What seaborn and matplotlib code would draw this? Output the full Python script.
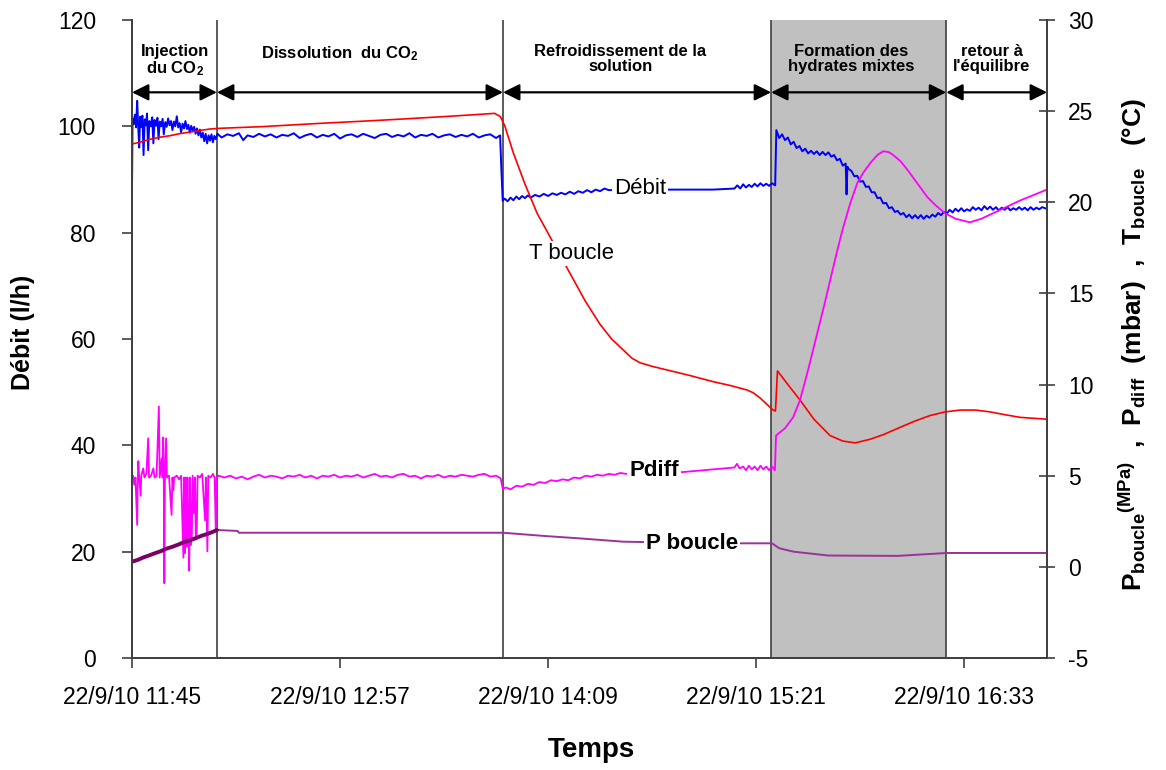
import matplotlib
matplotlib.use("Agg")
import pandas as pd
import matplotlib.pyplot as plt
import seaborn as sns

# temps en minutes depuis 22/9/10 11:45
tick_minutes = [0, 72, 144, 216, 288]
tick_labels = ['22/9/10 11:45', '22/9/10 12:57', '22/9/10 14:09',
               '22/9/10 15:21', '22/9/10 16:33']
x_max = 316.7

phase_edges = [0, 29.4, 128.4, 221.2, 281.8, 316.7]
phase_names = ['Injection\ndu CO$_2$', 'Dissolution  du CO$_2$',
               'Refroidissement de la\nsolution', 'Formation des\nhydrates mixtes',
               "retour à\nl'équilibre"]
phase_label_x = [14.9, 72.0, 169.0, 249.0, 297.5]

# Débit (l/h), axe gauche
debit_pts = [
    (0.0, 88.0), (0.2, 101.5), (0.6, 100.4), (1.0, 102.2), (1.4, 99.8), (1.8, 104.8),
    (2.1, 100.6), (2.5, 96.0), (2.8, 101.8), (3.2, 99.9), (3.6, 102.0), (4.0, 94.6),
    (4.4, 101.3), (4.8, 100.2), (5.2, 102.4), (5.6, 95.5), (6.0, 101.0), (6.5, 100.0),
    (7.0, 101.7), (7.4, 96.8), (7.8, 101.2), (8.3, 100.1), (8.8, 101.6), (9.2, 97.6),
    (9.6, 100.9), (10.1, 100.0), (10.6, 101.4), (11.0, 98.5), (11.5, 100.8), (12.0, 99.9),
    (12.5, 101.5), (13.0, 100.2), (13.5, 101.0), (14.0, 99.3), (14.5, 100.9), (15.0, 100.0),
    (15.5, 101.9), (16.0, 99.8), (16.5, 100.6), (17.0, 98.9), (17.5, 100.5), (18.0, 99.6),
    (18.5, 101.0), (19.0, 99.5), (19.5, 100.3), (20.0, 98.8), (20.5, 100.1), (21.0, 99.2),
    (21.5, 99.9), (22.0, 98.6), (22.5, 99.6), (23.0, 98.3), (23.5, 99.4), (24.0, 97.9),
    (24.5, 98.8), (25.0, 97.2), (25.5, 98.6), (26.0, 96.8), (26.5, 98.3), (27.0, 97.3),
    (27.5, 98.5), (28.0, 97.0), (28.5, 98.2), (29.0, 97.6),
    (29.6, 98.6), (31, 97.9), (33, 98.5), (35, 98.2), (37, 98.7), (38.5, 97.4), (40, 98.3),
    (42, 98.0), (44, 98.6), (46, 98.1), (48, 98.5), (50, 97.9), (52, 98.4), (54, 98.2),
    (56, 98.7), (58, 97.8), (60, 98.3), (62, 98.6), (64, 97.9), (66, 98.4), (68, 98.1),
    (70, 98.6), (72, 97.7), (74, 98.3), (76, 98.5), (78, 98.0), (80, 98.6), (82, 98.2),
    (84, 97.8), (86, 98.4), (88, 98.6), (90, 98.0), (92, 98.4), (94, 98.1), (96, 98.7),
    (98, 97.9), (100, 98.4), (102, 98.2), (104, 98.6), (106, 97.9), (108, 98.3), (110, 98.5),
    (112, 98.0), (114, 98.4), (116, 98.1), (118, 98.6), (120, 97.9), (122, 98.3), (124, 98.5),
    (126, 97.8), (127.4, 98.3), (127.8, 92.4), (128.3, 86.0),
    (129.0, 86.4), (130.0, 85.9), (131.0, 86.6), (132.0, 86.1), (133.0, 86.8), (134.0, 86.3),
    (135.0, 86.9), (136.0, 86.5), (137.0, 87.0), (138.0, 86.6), (139.5, 87.1), (141.0, 86.8),
    (142.5, 87.3), (144.0, 86.9), (145.5, 87.4), (147.0, 87.1), (148.5, 87.5), (150.0, 87.2),
    (151.5, 87.7), (153.0, 87.3), (154.5, 87.8), (156.0, 87.5), (157.5, 88.0), (159.0, 87.6),
    (160.5, 88.1), (162.0, 87.8), (163.5, 88.3), (165.0, 88.0), (187.0, 88.1), (201.0, 88.1),
    (208.5, 88.3), (209.5, 88.9), (210.5, 88.3), (211.5, 89.1), (212.5, 88.5), (213.5, 89.0),
    (214.5, 88.6), (215.5, 89.2), (216.5, 88.7), (217.5, 89.3), (218.5, 88.8), (219.5, 89.2),
    (220.5, 88.8), (221.5, 89.3), (222.6, 88.9), (223.0, 99.3),
    (224, 97.8), (225, 98.5), (226, 97.4), (227, 97.9), (228, 96.6), (229, 97.1), (230, 95.9),
    (231, 96.3), (232, 95.3), (233, 95.8), (234, 94.9), (235, 95.4), (236, 94.8), (237, 95.3),
    (238, 94.6), (239, 95.2), (240, 94.6), (241, 95.1), (242, 94.3), (243, 94.6), (244, 93.6),
    (245, 93.9), (246, 92.6), (247, 93.0), (247.3, 87.2), (247.6, 92.4), (248, 92.0),
    (249, 91.6), (250, 90.6), (251, 90.7), (252, 89.6), (253, 89.7), (254, 88.6), (255, 88.7),
    (256, 87.6), (257, 87.6), (258, 86.5), (259, 86.6), (260, 85.5), (261, 85.6), (262, 84.6),
    (263, 84.8), (264, 83.9), (265, 84.1), (266, 83.4), (267, 83.7), (268, 82.9), (269, 83.4),
    (270, 82.7), (271, 83.3), (272, 82.7), (273, 83.3), (274, 82.6), (275, 83.2), (276, 82.8),
    (277, 83.4), (278, 83.0), (279, 83.7), (280, 83.3), (281, 83.9), (282, 83.6),
    (283, 84.3), (284, 83.8), (285, 84.5), (286, 84.0), (287, 84.6), (288, 84.0), (289, 84.4),
    (290, 84.1), (291, 84.8), (292, 84.3), (293, 84.7), (294, 84.2), (295, 85.0), (296, 84.4),
    (297, 84.9), (298, 84.3), (299, 84.8), (300, 84.2), (301, 84.7), (302, 84.3), (303, 84.8),
    (304, 84.2), (305, 84.6), (306, 84.3), (307, 84.8), (308, 84.3), (309, 84.7), (310, 84.2),
    (311, 84.8), (312, 84.3), (313, 84.7), (314, 84.4), (315, 84.8), (316.5, 84.5),
]

# T boucle (°C), axe droit
t_boucle_pts = [
    (0, 23.2), (3, 23.3), (6, 23.45), (10, 23.58), (13, 23.65), (17, 23.78), (20, 23.85),
    (24, 23.95), (27, 24.02), (30.5, 24.06), (45, 24.15), (65, 24.33), (80, 24.45),
    (95, 24.58), (111, 24.73), (120, 24.82), (125.5, 24.88), (127.5, 24.7), (129, 24.2),
    (132, 22.7), (136, 21.0), (140.2, 19.4), (144.7, 18.1), (150.9, 16.3), (156.8, 14.6),
    (162, 13.3), (166, 12.5), (170, 11.9), (173, 11.45), (175.8, 11.2), (180, 11.0),
    (185.2, 10.8), (193, 10.5), (201.1, 10.16), (207, 9.95), (212.9, 9.7), (215, 9.55),
    (217.4, 9.26), (219.5, 8.95), (221.9, 8.6), (222.7, 8.55), (223.4, 10.75), (227, 10.0),
    (231.2, 9.15), (236, 8.1), (241.6, 7.2), (246, 6.9), (250.3, 6.8), (255.5, 7.0),
    (260, 7.25), (265.8, 7.65), (271, 8.0), (276.2, 8.3), (281.4, 8.5), (286.6, 8.6),
    (292, 8.6), (297, 8.5), (302, 8.35), (307.4, 8.2), (312, 8.15), (316.7, 8.1),
]

# Pdiff (mbar), axe droit
pdiff_pts = [
    (0.0, 4.7), (0.4, 5.0), (0.8, 4.5), (1.2, 4.9), (1.8, 2.3), (2.0, 4.8), (2.2, 5.8),
    (2.5, 4.9), (3.0, 3.9), (3.2, 5.0), (3.9, 5.4), (4.3, 4.9), (5.0, 5.1), (5.6, 7.05),
    (5.9, 4.9), (6.6, 5.0), (7.4, 5.4), (7.8, 4.9), (8.5, 5.0), (9.3, 8.8), (9.6, 4.9),
    (10.3, 5.95), (10.6, 4.9), (10.8, 7.1), (11.0, 4.9), (11.2, -0.9), (11.4, 4.9),
    (11.8, 7.05), (12.1, 4.9), (12.8, 5.0), (13.7, 2.85), (14.0, 4.9), (14.3, 4.2),
    (14.6, 4.9), (15.5, 5.0), (16.3, 4.8), (17.0, 5.0), (17.8, 0.5), (18.0, 4.9),
    (18.3, 0.75), (18.6, 4.9), (18.9, 1.1), (19.2, 4.9), (19.5, 2.0), (19.8, -0.2),
    (20.1, 4.9), (20.4, 1.2), (20.7, 1.65), (21.0, 5.0), (21.5, 2.95), (21.8, 4.9),
    (22.1, 1.5), (22.4, 1.85), (22.7, 5.0), (23.5, 4.9), (24.3, 5.1), (25.3, 2.55),
    (25.6, 4.9), (26.1, 0.85), (26.4, 5.0), (27.2, 4.9), (28.0, 5.1), (28.6, 4.9),
    (29.0, 2.0), (29.3, 4.9),
    (30, 5.0), (32, 4.9), (34, 5.0), (36, 4.85), (38, 4.95), (40, 4.8), (42, 4.95),
    (44, 5.05), (46, 4.9), (48, 5.0), (50, 4.95), (52, 4.85), (54, 5.0), (56, 4.95),
    (58, 5.05), (60, 4.9), (62, 5.0), (64, 4.85), (66, 5.0), (68, 4.95), (70, 5.05),
    (72, 4.9), (74, 5.0), (76, 4.95), (78, 5.05), (80, 4.9), (82, 5.0), (84, 5.1),
    (86, 4.95), (88, 5.0), (90, 4.9), (92, 5.05), (94, 5.1), (96, 4.95), (98, 5.0),
    (100, 4.85), (102, 5.0), (104, 4.95), (106, 5.05), (108, 4.9), (110, 5.0), (112, 4.95),
    (114, 5.05), (116, 5.0), (118, 4.95), (120, 5.05), (122, 5.1), (124, 4.95), (126, 5.0),
    (127.6, 4.85), (128.3, 4.3),
    (129.5, 4.35), (131, 4.25), (133, 4.45), (135, 4.4), (137, 4.55), (139, 4.5),
    (141, 4.65), (143, 4.6), (145, 4.75), (147, 4.7), (149, 4.8), (151, 4.75), (153, 4.9),
    (155, 4.85), (157, 5.0), (159, 4.95), (161, 5.05), (163, 5.0), (165, 5.1), (167, 5.05),
    (169, 5.15), (171, 5.1), (190.7, 5.2), (208.5, 5.45), (209.4, 5.65), (210.3, 5.4),
    (211.5, 5.5), (212.5, 5.3), (213.5, 5.55), (214.5, 5.35), (215.5, 5.5), (216.5, 5.3),
    (217.5, 5.55), (218.5, 5.35), (219.5, 5.5), (220.5, 5.3), (221.5, 5.5), (222.5, 5.3),
    (222.9, 7.2), (224, 7.35), (226, 7.6), (228.8, 8.2), (231.2, 9.15), (234, 10.8),
    (237, 12.7), (239.5, 14.3), (241.6, 15.7), (244, 17.3), (246.1, 18.6), (248.5, 19.9),
    (251, 21.05), (253, 21.6), (255.5, 22.15), (258, 22.6), (260, 22.8), (262, 22.75),
    (263.4, 22.6), (266, 22.25), (268.3, 21.8), (272, 21.0), (275.2, 20.3), (278, 19.85),
    (281.4, 19.4), (285, 19.1), (290, 18.9), (294, 19.1), (298, 19.4), (302, 19.7),
    (307.4, 20.1), (312, 20.4), (316.7, 20.7),
]

# P boucle (MPa), axe droit
p_boucle_pts = [
    (0.0, 0.28), (2, 0.38), (4, 0.52), (6, 0.63), (8, 0.75), (10, 0.86), (12, 1.0),
    (14, 1.1), (16, 1.22), (18, 1.35), (20, 1.45), (22, 1.57), (24, 1.7), (26, 1.8),
    (28, 1.92), (29.4, 2.02), (36.5, 1.97), (37, 1.87), (128.4, 1.87), (143, 1.69),
    (155, 1.56), (170, 1.38), (190, 1.32), (211, 1.29), (221.5, 1.29), (224, 1.02),
    (229, 0.83), (241, 0.62), (265, 0.6), (282, 0.76), (316.7, 0.76),
]

debit = pd.DataFrame(debit_pts, columns=['minutes', 'valeur'])
t_boucle = pd.DataFrame(t_boucle_pts, columns=['minutes', 'valeur'])
pdiff = pd.DataFrame(pdiff_pts, columns=['minutes', 'valeur'])
p_boucle = pd.DataFrame(p_boucle_pts, columns=['minutes', 'valeur'])

sns.set_style("ticks")
plt.rcParams['font.family'] = ['Liberation Sans', 'DejaVu Sans']
plt.rcParams['mathtext.fontset'] = 'custom'
plt.rcParams['mathtext.rm'] = 'Liberation Sans'
plt.rcParams['mathtext.bf'] = 'Liberation Sans:bold'
plt.rcParams['mathtext.default'] = 'bf'
plt.rcParams['axes.unicode_minus'] = False
for key in ('text.color', 'axes.labelcolor', 'xtick.labelcolor', 'ytick.labelcolor'):
    plt.rcParams[key] = 'black'

spine_col = '#404040'

fig, ax = plt.subplots(figsize=(11.66, 7.70), dpi=100)
fig.subplots_adjust(left=0.1132, right=0.898, bottom=0.1455, top=0.974)
ax2 = ax.twinx()

# phases
ax.axvspan(phase_edges[3], phase_edges[4], color='#C0C0C0', zorder=0, lw=0)
for edge in phase_edges[1:-1]:
    ax.axvline(edge, color=spine_col, lw=1.2, zorder=1)

sns.lineplot(data=debit, x='minutes', y='valeur', ax=ax, color='#0000FF', lw=1.4,
             estimator=None, sort=False, legend=False)
sns.lineplot(data=t_boucle, x='minutes', y='valeur', ax=ax2, color='#FF0000', lw=1.2,
             estimator=None, sort=False, legend=False)
sns.lineplot(data=pdiff, x='minutes', y='valeur', ax=ax2, color='#FF00FF', lw=1.3,
             estimator=None, sort=False, legend=False)
sns.lineplot(data=p_boucle, x='minutes', y='valeur', ax=ax2, color='#993399', lw=1.4,
             estimator=None, sort=False, legend=False)
sns.lineplot(data=p_boucle[p_boucle['minutes'] <= phase_edges[1]], x='minutes', y='valeur',
             ax=ax2, color='#7A0066', lw=2.8, estimator=None, sort=False, legend=False)

ax.set_xlim(0, x_max)
ax.set_ylim(0, 120)
ax2.set_ylim(-5, 30)
ax.set_yticks(range(0, 121, 20))
ax2.set_yticks(range(-5, 31, 5))
ax.set_xticks(tick_minutes, tick_labels)

# flèches et titres des phases
arrow_y = 106.4
for i, name in enumerate(phase_names):
    ax2.annotate('', xy=(phase_edges[i + 1], arrow_y), xytext=(phase_edges[i], arrow_y),
                 xycoords=ax.transData, textcoords=ax.transData,
                 arrowprops=dict(arrowstyle='<|-|>,head_length=0.5,head_width=0.25',
                                 mutation_scale=20, color='black', lw=1.6,
                                 shrinkA=0, shrinkB=0))
    ax2.text(phase_label_x[i], 115.4, name, transform=ax.transData, ha='center', va='top',
             fontsize=12, fontweight='bold', linespacing=1.0)

# étiquettes des courbes
box = dict(facecolor='white', edgecolor='none', pad=1.5)
ax2.text(175.8, 88.3, 'Débit', transform=ax.transData, ha='center', va='center',
         fontsize=16, bbox=box, zorder=5)
ax2.text(152.0, 76.1, 'T boucle', transform=ax.transData, ha='center', va='center',
         fontsize=16, bbox=box, zorder=5)
ax2.text(180.7, 35.3, 'Pdiff', transform=ax.transData, ha='center', va='center',
         fontsize=16, fontweight='bold', bbox=box, zorder=5)
ax2.text(193.7, 21.6, 'P boucle', transform=ax.transData, ha='center', va='center',
         fontsize=16, fontweight='bold', bbox=box, zorder=5)

ax.set_xlabel('Temps', fontsize=20, fontweight='bold')
ax.set_ylabel('Débit (l/h)', fontsize=18, fontweight='bold')
ax2.set_ylabel(r'P$_{boucle}$${}^{(MPa)}$  ,  P$_{diff}$  (mbar)  ,  T$_{boucle}$   (°C)',
               fontsize=19, fontweight='bold')
ax.xaxis.set_label_coords(0.5016, -0.124)
ax.yaxis.set_label_coords(-0.106, 0.51)
ax2.yaxis.set_label_coords(1.076, 0.492)

for a in (ax, ax2):
    a.spines['top'].set_visible(False)
    for s in ('left', 'right', 'bottom'):
        a.spines[s].set_color(spine_col)
        a.spines[s].set_linewidth(1.3)
ax.tick_params(axis='y', direction='out', length=7, width=1.2, color=spine_col,
               labelsize=16.5, pad=19)
ax.tick_params(axis='x', direction='out', length=7, width=1.2, color=spine_col,
               labelsize=16.5, pad=13)
ax2.tick_params(axis='y', direction='inout', length=12, width=1.2, color=spine_col,
                labelsize=16.5, pad=9)

fig.savefig('out.png', dpi=100)
